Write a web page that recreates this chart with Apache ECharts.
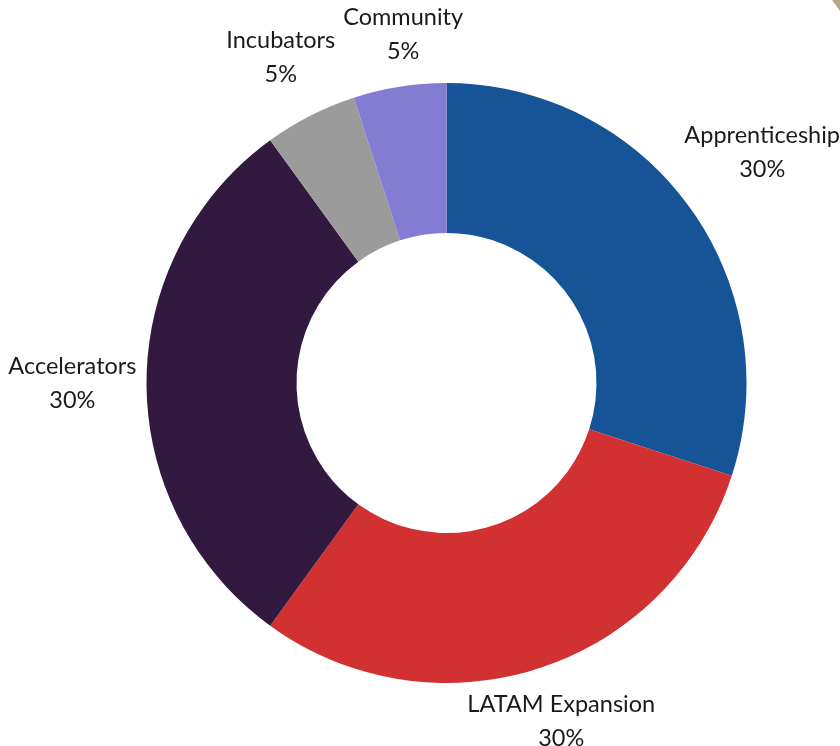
<!DOCTYPE html>
<html>
<head>
<meta charset="utf-8">
<script src="https://cdn.jsdelivr.net/npm/echarts@6/dist/echarts.min.js"></script>
<style>html,body{margin:0;padding:0;background:#fff}#c{width:840px;height:746px}</style>
</head>
<body>
<div id="c"></div>
<script>
const categories = ['Apprenticeship', 'LATAM Expansion', 'Accelerators', 'Incubators', 'Community'];
const values = [30, 30, 30, 5, 5];
const colors = ['#175397', '#D13131', '#31193F', '#9B9B9B', '#847CD3'];

const chart = echarts.init(document.getElementById('c'));
const CX = 446.5, CY = 383, R_IN = 150, R_OUT = 300, GAP = 10, SEP = 8;
const total = values.reduce((a, b) => a + b, 0);
const boxes = {};

function midAngle(i) {
  let acc = 0;
  for (let k = 0; k < i; k++) acc += values[k];
  const mid = acc + values[i] / 2;
  return (90 - mid / total * 360) * Math.PI / 180;
}

chart.setOption({
  backgroundColor: '#ffffff',
  animation: false,
  graphic: [{
    type: 'polygon',
    shape: { points: [[832, 0], [840, 0], [840, 11]] },
    style: { fill: '#B9A48A' }
  }],
  series: [{
    type: 'pie',
    center: [CX, CY],
    radius: [R_IN, R_OUT],
    startAngle: 90,
    clockwise: true,
    data: categories.map((n, i) => ({ name: n, value: values[i], itemStyle: { color: colors[i] } })),
    label: {
      show: true,
      position: 'outside',
      formatter: '{b}\n{d}%',
      fontFamily: 'Lato',
      fontSize: 23.5,
      lineHeight: 34,
      color: '#1a1a1a',
      align: 'center',
      overflow: 'none'
    },
    labelLine: { show: false },
    labelLayout: function (p) {
      const i = p.dataIndex;
      const a = midAngle(i);
      const w = p.labelRect.width / 2, h = p.labelRect.height / 2;
      const c = Math.cos(a), s = Math.sin(a);
      const d = R_OUT + GAP + w * Math.abs(c) + h * Math.abs(s);
      let x = CX + d * c, y = CY - d * s;
      const W = chart.getWidth(), H = chart.getHeight();
      x = Math.min(Math.max(x, w), W - w);
      y = Math.min(Math.max(y, h - 4), H - h + 9);
      for (let k = 0; k < i; k++) {
        const b = boxes[k];
        if (!b) continue;
        const overlapY = Math.abs(y - b.y) < h + b.h;
        const overlapX = Math.abs(x - b.x) < w + b.w + SEP;
        if (overlapX && overlapY) {
          x = x >= b.x ? b.x + b.w + SEP + w : b.x - b.w - SEP - w;
        }
      }
      boxes[i] = { x: x, y: y, w: w, h: h };
      return { x: x, y: y, align: 'center', verticalAlign: 'middle' };
    }
  }]
});
</script>
</body>
</html>
